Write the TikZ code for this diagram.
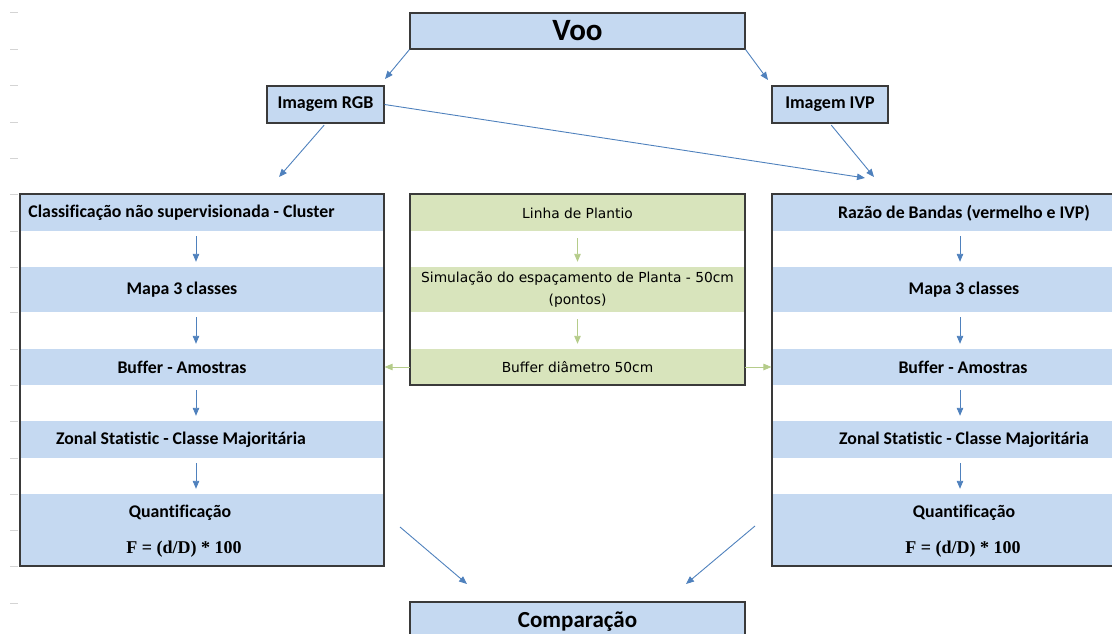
\documentclass[tikz,border=0pt]{standalone}
\usepackage{fontspec}
\setmainfont{Carlito}[Ligatures=NoCommon]
\newfontfamily\plainfont{DejaVu Sans}
\newfontfamily\formfont{Liberation Serif}
\usetikzlibrary{arrows.meta}

\definecolor{bandblue}{HTML}{C5D9F1}
\definecolor{bandgreen}{HTML}{D8E4BC}
\definecolor{arrblue}{HTML}{4F81BD}
\definecolor{arrgreen}{HTML}{B5CC8A}
\definecolor{framegray}{HTML}{3A3A3A}
\definecolor{tickgray}{HTML}{D4D4D4}

\begin{document}
\begin{tikzpicture}[x=1pt,y=-1pt,>={Triangle[length=8pt,width=6.5pt]},
  band/.style={fill=bandblue,inner sep=0pt,minimum width=364pt},
  gband/.style={fill=bandgreen,inner sep=0pt,minimum width=335pt},
  frame/.style={draw=framegray,line width=1.1pt,inner sep=0pt},
  boxnode/.style={frame,fill=bandblue,font=\bfseries\fontsize{18}{21}\selectfont},
  lbl/.style={font=\bfseries\fontsize{17.8}{21}\selectfont,inner sep=1pt},
  glbl/.style={font=\plainfont\fontsize{13.8}{22}\selectfont,align=center,inner sep=1pt},
  flbl/.style={font=\formfont\bfseries\fontsize{18}{21}\selectfont,inner sep=1pt},
  arr/.style={->,draw=arrblue,line width=0.9pt},
  garr/.style={->,draw=arrgreen,line width=0.9pt}]
  \useasboundingbox (0,0) rectangle (1112,634);
  \clip (0,0) rectangle (1112,634);

  % Linhas da planilha
  \foreach \y in {13,49.5,86,122,158.5,194.5,231,267,312.5,349,385,421.5,458,494,530,566.5,603} {
    \draw[tickgray,line width=1pt] (10,\y) -- (18,\y);
  }

  % Faixas
  \foreach \n/\ya/\yb in {1/194/231,2/267/312,3/349/385,4/421/458,5/494/566} {
    \node[band,minimum height=\yb pt-\ya pt] (lb\n) at (202,{(\ya+\yb)/2}) {};
    \node[band,minimum height=\yb pt-\ya pt] (rb\n) at (954,{(\ya+\yb)/2}) {};
  }
  \foreach \n/\ya/\yb in {1/194/231,2/267/312,3/349/385} {
    \node[gband,minimum height=\yb pt-\ya pt] (cb\n) at (577.5,{(\ya+\yb)/2}) {};
  }

  % Molduras
  \node[frame,minimum width=364pt,minimum height=372pt] (lframe) at (202,380) {};
  \node[frame,minimum width=335pt,minimum height=191pt] (cframe) at (577.5,289.5) {};
  \node[frame,minimum width=364pt,minimum height=372pt] (rframe) at (954,380) {};

  % Topo e base
  \node[boxnode,minimum width=335pt,minimum height=36pt,font=\bfseries\fontsize{31}{36}\selectfont] (voo) at (577.5,31) {Voo};
  \node[boxnode,minimum width=117pt,minimum height=37pt] (rgb) at (325.5,104.5) {Imagem RGB};
  \node[boxnode,minimum width=116pt,minimum height=37pt] (ivp) at (830,104.5) {Imagem IVP};
  \node[boxnode,minimum width=335pt,minimum height=40pt,font=\bfseries\fontsize{23}{27}\selectfont] (comp) at (577.5,622) {Comparação};

  % RGB
  \node[lbl] (lt1) at (181.5,213) {Classificação não supervisionada - Cluster};
  \node[lbl] (lt2) at (182,290) {Mapa 3 classes};
  \node[lbl] (lt3) at (182,367.5) {Buffer - Amostras};
  \node[lbl] (lt4) at (181,440) {Zonal Statistic - Classe Majoritária};
  \node[lbl] (lt5) at (180,512.5) {Quantificação};
  \node[flbl] (lf) at (184,549) {F = (d/D) * 100};

  % Plantio
  \node[glbl] (ct1) at (577.5,213) {Linha de Plantio};
  \node[glbl] (ct2) at (577.5,290) {Simulação do espaçamento de Planta - 50cm\\(pontos)};
  \node[glbl] (ct3) at (577.5,367.5) {Buffer diâmetro 50cm};

  % IVP
  \node[lbl] (rt1) at (964,213) {Razão de Bandas (vermelho e IVP)};
  \node[lbl] (rt2) at (964,290) {Mapa 3 classes};
  \node[lbl] (rt3) at (963,367.5) {Buffer - Amostras};
  \node[lbl] (rt4) at (964,440) {Zonal Statistic - Classe Majoritária};
  \node[lbl] (rt5) at (964,512.5) {Quantificação};
  \node[flbl] (rf) at (963,549) {F = (d/D) * 100};

  % Pontas livres
  \coordinate (rgbtip) at (385,79);
  \coordinate (ivptip) at (768,80);
  \coordinate (ltip) at (279,177);
  \coordinate (rtip1) at (865,178);
  \coordinate (rtip2) at (874,177);
  \coordinate (lax) at (196,0);
  \coordinate (rax) at (960,0);
  \coordinate (lout) at (400,527);
  \coordinate (rout) at (755,526);
  \coordinate (ctipl) at (467,584);
  \coordinate (ctipr) at (686,584);

  % Setas
  \draw[arr] (voo.south west) -- (rgbtip);
  \draw[arr] (voo.south east) -- (ivptip);
  \draw[arr,shorten <=2pt] (rgb.south) -- (ltip);
  \draw[arr] (rgb.east) -- (rtip1);
  \draw[arr,shorten <=2pt] (ivp.south) -- (rtip2);
  \foreach \n/\m in {1/2,2/3,3/4,4/5} {
    \draw[arr,shorten <=5pt,shorten >=5pt] (lb\n.south -| lax) -- (lb\m.north -| lax);
    \draw[arr,shorten <=5pt,shorten >=5pt] (rb\n.south -| rax) -- (rb\m.north -| rax);
  }
  \foreach \n/\m in {1/2,2/3} {
    \draw[garr,shorten <=7pt,shorten >=5pt] (cb\n.south) -- (cb\m.north);
  }
  \draw[garr] (cb3.west) -- (lframe.east |- cb3.west);
  \draw[garr] (cb3.east) -- (rframe.west |- cb3.east);
  \draw[arr] (lout) -- (ctipl);
  \draw[arr] (rout) -- (ctipr);
\end{tikzpicture}
\end{document}
